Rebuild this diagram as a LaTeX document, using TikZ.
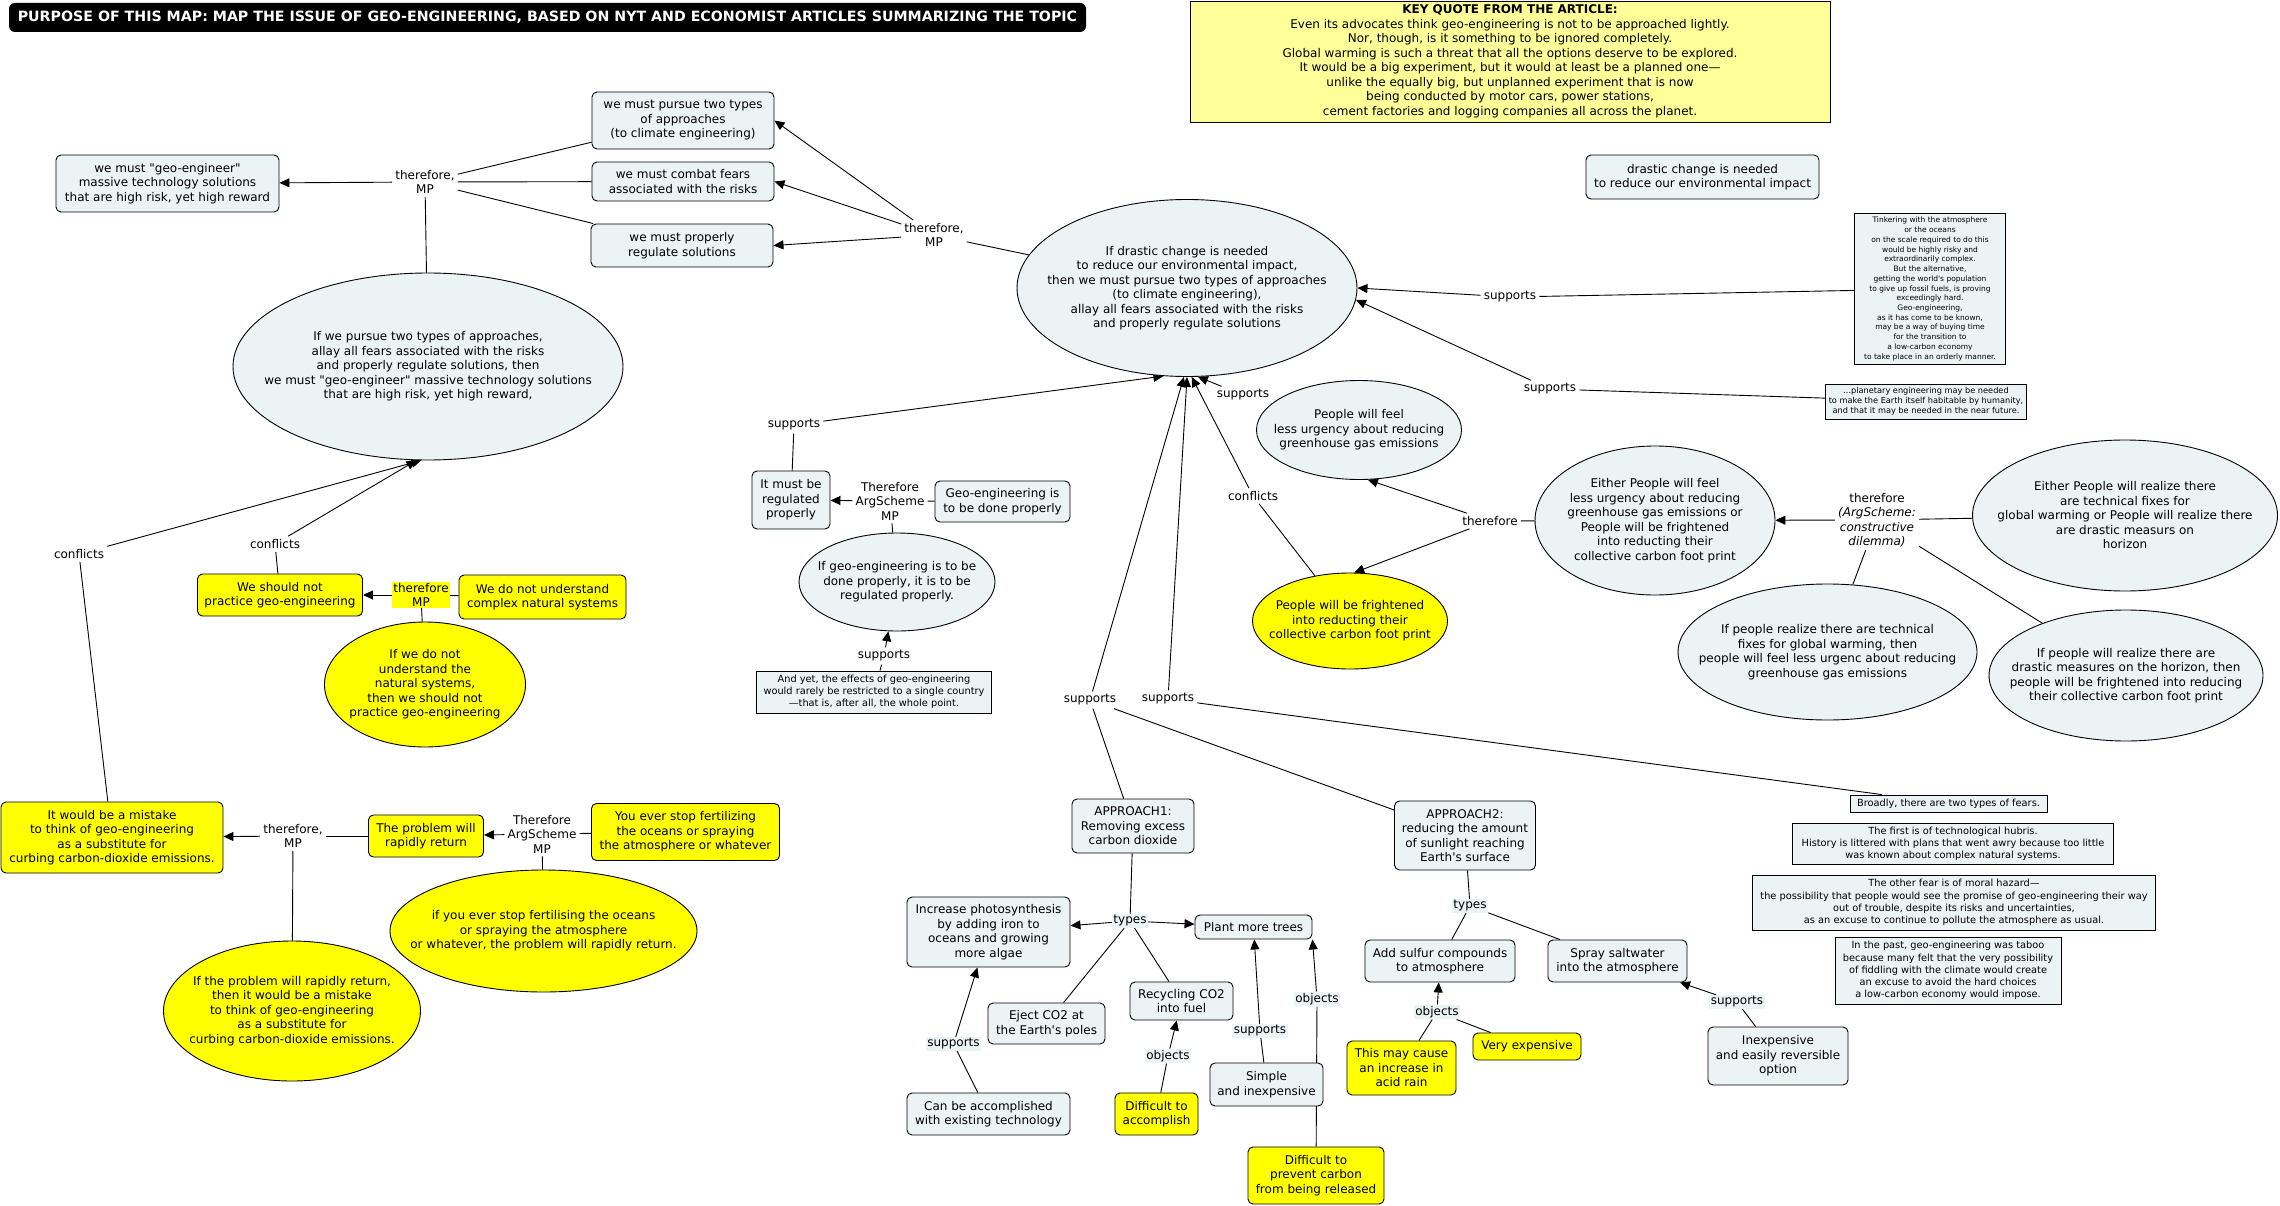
\documentclass[tikz,border=0pt]{standalone}
\usepackage{fontspec}
\setmainfont{DejaVu Sans}[Ligatures=TeXOff]
\usepackage{xcolor}
\usetikzlibrary{shapes.geometric,arrows.meta}

\definecolor{mapfill}{RGB}{236,243,245}
\definecolor{mapyellow}{RGB}{255,255,0}
\definecolor{quoteyellow}{RGB}{255,255,153}

\pgfdeclarelayer{links}
\pgfsetlayers{links,main}

\tikzset{
  every node/.style={font=\fontsize{12}{14.5}\selectfont},
  titlebar/.style={fill=black, rounded corners=6pt, text=white, inner sep=0pt, font=\bfseries\fontsize{14.2}{17}\selectfont},
  conceptbox/.style={draw, line width=0.9pt, rounded corners=5pt, fill=mapfill, align=center, inner sep=2pt},
  yconceptbox/.style={conceptbox, fill=mapyellow},
  oval/.style={draw, line width=0.9pt, ellipse, fill=mapfill, inner sep=0pt},
  yoval/.style={oval, fill=mapyellow},
  ovaltext/.style={align=center, inner sep=0pt},
  quotebox/.style={draw, line width=0.9pt, fill=mapfill, align=center, inner sep=1pt, font=\fontsize{9.8}{12.2}\selectfont},
  phrase/.style={align=center, inner sep=3pt},
  phrasebg/.style={phrase, fill=mapfill, inner sep=1.5pt},
  linkline/.style={line width=0.9pt},
  linkarrow/.style={linkline, -{Triangle[length=10pt,width=9pt]}}
}

\begin{document}
\begin{tikzpicture}[x=1pt,y=1pt,yscale=-1,xscale=1]

\useasboundingbox (0,0) rectangle (2280,1206);

\node[titlebar, minimum width=1077, minimum height=29] (title) at (547.5,17.5) {PURPOSE OF THIS MAP: MAP THE ISSUE OF GEO-ENGINEERING, BASED ON NYT AND ECONOMIST ARTICLES SUMMARIZING THE TOPIC};

\node[quotebox, fill=quoteyellow, font=\fontsize{12}{14.5}\selectfont, minimum width=640, minimum height=121] (keyquote) at (1510,61.5) {\textbf{KEY QUOTE FROM THE ARTICLE:}\\Even its advocates think geo-engineering is not to be approached lightly.\\Nor, though, is it something to be ignored completely.\\Global warming is such a threat that all the options deserve to be explored.\\It would be a big experiment, but it would at least be a planned one—\\unlike the equally big, but unplanned experiment that is now\\being conducted by motor cars, power stations,\\cement factories and logging companies all across the planet.};

\node[conceptbox, minimum width=223, minimum height=57] (geoeng) at (167.5,183.5) {we must "geo-engineer"\\massive technology solutions\\that are high risk, yet high reward};

\node[conceptbox, minimum width=182, minimum height=57] (pursue) at (683,120.5) {we must pursue two types\\of approaches\\(to climate engineering)};

\node[conceptbox, minimum width=182, minimum height=39] (combat) at (683,181.5) {we must combat fears\\associated with the risks};

\node[conceptbox, minimum width=182, minimum height=43] (regulate) at (682,245.5) {we must properly\\regulate solutions};

\node[phrase] (tfmpA) at (425,182) {therefore,\\MP};

\node[phrase] (tfmpB) at (934,235) {therefore,\\MP};

\node[oval, minimum width=390, minimum height=187, label={[ovaltext]center:{If we pursue two types of approaches,\\allay all fears associated with the risks\\and properly regulate solutions, then\\we must "geo-engineer" massive technology solutions\\that are high risk, yet high reward,}}] (pursuecond) at (428,366.5) {};

\node[oval, minimum width=340, minimum height=177, label={[ovaltext]center:{If drastic change is needed\\to reduce our environmental impact,\\then we must pursue two types of approaches\\(to climate engineering),\\allay all fears associated with the risks\\and properly regulate solutions}}] (central) at (1187,288) {};

\node[conceptbox, minimum width=233, minimum height=44] (drastic) at (1702.5,177) {drastic change is needed\\to reduce our environmental impact};

\node[quotebox, font=\fontsize{7.5}{9.73}\selectfont, minimum width=151, minimum height=151] (tinker) at (1930,289) {Tinkering with the atmosphere\\or the oceans\\on the scale required to do this\\would be highly risky and\\extraordinarily complex.\\But the alternative,\\getting the world's population\\to give up fossil fuels, is proving\\exceedingly hard.\\Geo-engineering,\\as it has come to be known,\\may be a way of buying time\\for the transition to\\a low-carbon economy\\to take place in an orderly manner.};

\node[quotebox, font=\fontsize{8.2}{10}\selectfont, minimum width=201, minimum height=35] (planet) at (1926,401.5) {...planetary engineering may be needed\\to make the Earth itself habitable by humanity,\\and that it may be needed in the near future.};

\node[phrase] (supA) at (1510,297) {supports};

\node[phrase] (supB) at (1550,389) {supports};

\node[phrase] (supC) at (1243,395) {supports};

\node[oval, minimum width=205, minimum height=99, label={[ovaltext]center:{People will feel\\less urgency about reducing\\greenhouse gas emissions}}] (lessurg) at (1359,430) {};

\node[yoval, minimum width=195, minimum height=96, label={[ovaltext]center:{People will be frightened\\into reducting their\\collective carbon foot print}}] (fright) at (1350,621) {};

\node[phrase] (conflC) at (1253,496) {conflicts};

\node[phrase] (tfC) at (1490,521) {therefore};

\node[oval, minimum width=240, minimum height=149, label={[ovaltext]center:{Either People will feel\\less urgency about reducing\\greenhouse gas emissions or\\People will be frightened\\into reducting their\\collective carbon foot print}}] (eitherA) at (1655,520.5) {};

\node[phrase] (tfasB) at (1877,520) {therefore\\\textit{(ArgScheme:}\\\textit{constructive}\\\textit{dilemma)}};

\node[oval, minimum width=305, minimum height=151, label={[ovaltext]center:{Either People will realize there\\are technical fixes for\\global warming or People will realize there\\are drastic measurs on\\horizon}}] (eitherB) at (2125,515.5) {};

\node[oval, minimum width=299, minimum height=136, label={[ovaltext]center:{If people realize there are technical\\fixes for global warming, then\\people will feel less urgenc about reducing\\greenhouse gas emissions}}] (iftech) at (1827.5,652) {};

\node[oval, minimum width=274, minimum height=131, label={[ovaltext]center:{If people will realize there are\\drastic measures on the horizon, then\\people will be frightened into reducing\\their collective carbon foot print}}] (ifdrastic) at (2126,675.5) {};

\node[phrase] (supD) at (794,425) {supports};

\node[conceptbox, minimum width=78, minimum height=58] (regul) at (791,500) {It must be\\regulated\\properly};

\node[phrase] (tfasA) at (890,501) {Therefore\\ArgScheme\\MP};

\node[conceptbox, minimum width=135, minimum height=41] (doneprop) at (1002.5,501.5) {Geo-engineering is\\to be done properly};

\node[oval, minimum width=196, minimum height=98, label={[ovaltext]center:{If geo-engineering is to be\\done properly, it is to be\\regulated properly.}}] (ifgeo) at (897,582) {};

\node[phrase] (supE) at (884,656) {supports};

\node[quotebox, minimum width=235, minimum height=42] (andyet) at (874,692) {And yet, the effects of geo-engineering\\would rarely be restricted to a single country\\—that is, after all, the whole point.};

\node[phrase] (supF) at (1090,700) {supports};

\node[phrase] (supG) at (1168,699) {supports};

\node[quotebox, minimum width=197, minimum height=17] (broadly) at (1948.5,803.5) {Broadly, there are two types of fears.};

\node[quotebox, minimum width=321, minimum height=41] (first) at (1953,843.5) {The first is of technological hubris.\\History is littered with plans that went awry because too little\\was known about complex natural systems.};

\node[quotebox, minimum width=403, minimum height=55] (other) at (1954,902.5) {The other fear is of moral hazard—\\the possibility that people would see the promise of geo-engineering their way\\out of trouble, despite its risks and uncertainties,\\as an excuse to continue to pollute the atmosphere as usual.};

\node[quotebox, minimum width=226, minimum height=67] (past) at (1948,970.5) {In the past, geo-engineering was taboo\\because many felt that the very possibility\\of fiddling with the climate would create\\an excuse to avoid the hard choices\\a low-carbon economy would impose.};

\node[phrase] (conflA) at (79,554) {conflicts};

\node[phrase] (conflB) at (275,544) {conflicts};

\node[yconceptbox, minimum width=165, minimum height=42] (nopract) at (280,595) {We should not\\practice geo-engineering};

\node[phrase, fill=mapyellow, inner sep=1pt] (tfmpC) at (421,595) {therefore\\MP};

\node[yconceptbox, minimum width=167, minimum height=44] (notund) at (542.5,597) {We do not understand\\complex natural systems};

\node[yoval, minimum width=201, minimum height=125, label={[ovaltext]center:{If we do not\\understand the\\natural systems,\\then we should not\\practice geo-engineering}}] (ifnot) at (425,684.5) {};

\node[yconceptbox, minimum width=222, minimum height=71] (mistake) at (112,837.5) {It would be a mistake\\to think of geo-engineering\\as a substitute for\\curbing carbon-dioxide emissions.};

\node[phrase] (tfmpD) at (293,836) {therefore,\\MP};

\node[yconceptbox, minimum width=115, minimum height=42] (rapid) at (426,836) {The problem will\\rapidly return};

\node[phrase] (tfasC) at (542,834) {Therefore\\ArgScheme\\MP};

\node[yconceptbox, minimum width=188, minimum height=57] (stopfert) at (685.5,832) {You ever stop fertilizing\\the oceans or spraying\\the atmosphere or whatever};

\node[yoval, minimum width=307, minimum height=122, label={[ovaltext]center:{if you ever stop fertilising the oceans\\or spraying the atmosphere\\or whatever, the problem will rapidly return.}}] (ifstop) at (543.5,931) {};

\node[yoval, minimum width=257, minimum height=140, label={[ovaltext]center:{If the problem will rapidly return,\\then it would be a mistake\\to think of geo-engineering\\as a substitute for\\curbing carbon-dioxide emissions.}}] (ifrapid) at (292,1011) {};

\node[conceptbox, minimum width=122, minimum height=54] (approachA) at (1133,826) {APPROACH1:\\Removing excess\\carbon dioxide};

\node[conceptbox, minimum width=141, minimum height=69] (approachB) at (1465,835.5) {APPROACH2:\\reducing the amount\\of sunlight reaching\\Earth's surface};

\node[phrasebg] (typesA) at (1130,921) {types};

\node[conceptbox, minimum width=163, minimum height=70] (photo) at (988.5,932) {Increase photosynthesis\\by adding iron to\\oceans and growing\\more algae};

\node[conceptbox, minimum width=117, minimum height=41] (eject) at (1046.5,1023.5) {Eject CO2 at\\the Earth's poles};

\node[phrasebg] (supH) at (953.5,1044) {supports};

\node[conceptbox, minimum width=163, minimum height=42] (canbe) at (988.5,1114) {Can be accomplished\\with existing technology};

\node[conceptbox, minimum width=117, minimum height=24] (trees) at (1253.5,927) {Plant more trees};

\node[conceptbox, minimum width=103, minimum height=38] (recyc) at (1181.5,1001) {Recycling CO2\\into fuel};

\node[phrasebg] (objA) at (1168,1056) {objects};

\node[yconceptbox, minimum width=83, minimum height=42] (diffacc) at (1156.5,1114) {Difficult to\\accomplish};

\node[phrasebg] (supI) at (1260,1031) {supports};

\node[phrasebg] (objB) at (1317,999) {objects};

\node[conceptbox, minimum width=113, minimum height=43] (simple) at (1266.5,1084.5) {Simple\\and inexpensive};

\node[yconceptbox, minimum width=136, minimum height=57] (diffprev) at (1316,1175.5) {Difficult to\\prevent carbon\\from being released};

\node[phrasebg] (typesB) at (1470,906) {types};

\node[conceptbox, minimum width=150, minimum height=42] (sulfur) at (1440,961) {Add sulfur compounds\\to atmosphere};

\node[conceptbox, minimum width=139, minimum height=42] (spray) at (1617.5,961) {Spray saltwater\\into the atmosphere};

\node[phrasebg] (objC) at (1437,1012) {objects};

\node[yconceptbox, minimum width=109, minimum height=54] (acid) at (1401.5,1068) {This may cause\\an increase in\\acid rain};

\node[yconceptbox, minimum width=108, minimum height=27] (expens) at (1527,1046.5) {Very expensive};

\node[phrasebg] (supJ) at (1737,1002) {supports};

\node[conceptbox, minimum width=140, minimum height=58] (inexp) at (1778,1056) {Inexpensive\\and easily reversible\\option};

\begin{pgfonlayer}{links}
\draw[linkarrow] (tfmpA) -- (geoeng);
\draw[linkline] (pursue) -- (tfmpA);
\draw[linkline] (combat) -- (tfmpA);
\draw[linkline] (regulate) -- (tfmpA);
\draw[linkline] (pursuecond) -- (tfmpA);
\draw[linkarrow] (tfmpB) -- (pursue.east);
\draw[linkarrow] (tfmpB) -- (combat.east);
\draw[linkarrow] (tfmpB) -- (regulate.east);
\draw[linkline] (central) -- (tfmpB);

\draw[linkline] (tinker) -- (supA);
\draw[linkarrow] (supA) -- (central.east);
\draw[linkline] (planet) -- (supB);
\draw[linkarrow] (supB) -- (central.356);
\draw[linkline] (lessurg) -- (supC);
\draw[linkarrow] (supC) -- (central.277);
\draw[linkline] (regul) -- (supD);
\draw[linkarrow] (supD) -- (central.255);
\draw[linkline] (approachA) -- (supF);
\draw[linkline] (approachB) -- (supF);
\draw[linkarrow] (supF) -- (central.268);
\draw[linkline] (broadly) -- (supG);
\draw[linkarrow] (supG) -- (central.270);
\draw[linkline] (fright) -- (conflC);
\draw[linkarrow] (conflC) -- (central.273);

\draw[linkline] (eitherA) -- (tfC);
\draw[linkarrow] (tfC) -- (lessurg.280);
\draw[linkarrow] (tfC) -- (fright.85);
\draw[linkline] (eitherB) -- (tfasB);
\draw[linkarrow] (tfasB) -- (eitherA);
\draw[linkline] (iftech) -- (tfasB);
\draw[linkline] (ifdrastic) -- (tfasB);

\draw[linkarrow] (tfasA) -- (regul);
\draw[linkline] (doneprop) -- (tfasA);
\draw[linkline] (ifgeo) -- (tfasA);
\draw[linkline] (andyet) -- (supE);
\draw[linkarrow] (supE) -- (ifgeo);

\draw[linkline] (nopract) -- (conflB);
\draw[linkarrow] (conflB) -- (pursuecond.263);
\draw[linkline] (mistake) -- (conflA);
\draw[linkarrow] (conflA) -- (pursuecond.266);
\draw[linkarrow] (tfmpC) -- (nopract);
\draw[linkline] (notund) -- (tfmpC);
\draw[linkline] (ifnot) -- (tfmpC);
\draw[linkarrow] (tfmpD) -- (mistake);
\draw[linkline] (rapid) -- (tfmpD);
\draw[linkline] (ifrapid) -- (tfmpD);
\draw[linkarrow] (tfasC) -- (rapid);
\draw[linkline] (stopfert) -- (tfasC);
\draw[linkline] (ifstop) -- (tfasC);

\draw[linkline] (approachA) -- (typesA);
\draw[linkarrow] (typesA) -- (photo);
\draw[linkarrow] (typesA) -- (trees);
\draw[linkline] (eject) -- (typesA);
\draw[linkline] (recyc) -- (typesA);
\draw[linkline] (canbe) -- (supH);
\draw[linkarrow] (supH) -- (photo);
\draw[linkline] (diffacc) -- (objA);
\draw[linkarrow] (objA) -- (recyc);
\draw[linkline] (simple) -- (supI);
\draw[linkarrow] (supI) -- (trees);
\draw[linkline] (diffprev) -- (objB);
\draw[linkarrow] (objB) -- (trees.south east);
\draw[linkline] (approachB) -- (typesB);
\draw[linkline] (sulfur) -- (typesB);
\draw[linkline] (spray) -- (typesB);
\draw[linkline] (acid) -- (objC);
\draw[linkline] (expens) -- (objC);
\draw[linkarrow] (objC) -- (sulfur);
\draw[linkline] (inexp) -- (supJ);
\draw[linkarrow] (supJ) -- (spray);
\end{pgfonlayer}

\end{tikzpicture}
\end{document}
